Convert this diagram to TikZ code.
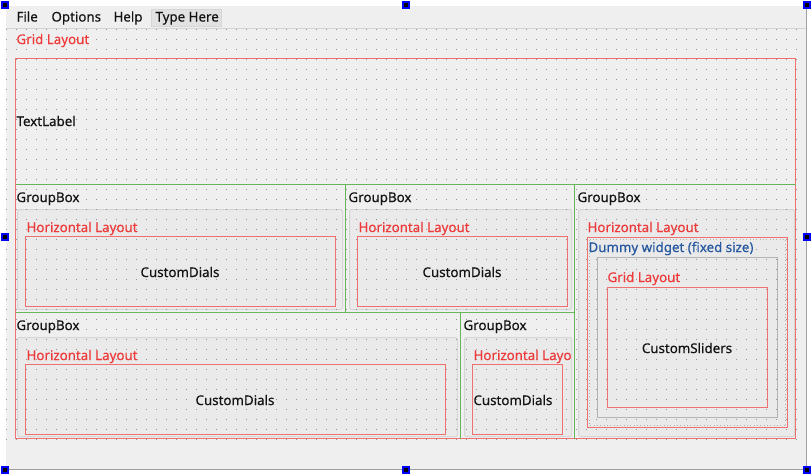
\documentclass[tikz,border=0pt]{standalone}
\usepackage{fontspec}
\setmainfont{Noto Sans}[BoldFont={Noto Sans}, BoldFeatures={FakeBold=0.35}]

\definecolor{winBg}{RGB}{239,239,239}
\definecolor{winEdge}{RGB}{160,160,160}
\definecolor{menuLine}{RGB}{212,212,212}
\definecolor{typeFill}{RGB}{226,226,226}
\definecolor{dotGray}{RGB}{145,145,145}
\definecolor{layoutRed}{RGB}{240,112,112}
\definecolor{labelRed}{RGB}{238,58,58}
\definecolor{splitGreen}{RGB}{104,182,92}
\definecolor{frameGray}{RGB}{214,214,214}
\definecolor{frameFill}{RGB}{234,234,234}
\definecolor{boxGray}{RGB}{178,178,178}
\definecolor{dummyBlue}{RGB}{38,88,160}
\definecolor{textBlack}{RGB}{20,20,20}

\tikzset{every picture/.style={line width=0.75pt}}
\tikzset{
  layoutbox/.style={draw=layoutRed},
  splitline/.style={draw=splitGreen},
  groupframe/.style={draw=frameGray, fill=frameFill, rounded corners=1.5pt},
  handle/.style={draw=blue, fill=black, line width=1pt},
  wtext/.style={anchor=base west, inner sep=0pt, text=textBlack, font=\fontsize{10}{12}\selectfont\bfseries},
  ctext/.style={wtext, anchor=base},
  redtext/.style={wtext, text=labelRed},
}

\begin{document}
\begin{tikzpicture}[x=0.75pt,y=0.75pt,yscale=-1,xscale=1]
\useasboundingbox (0,0) rectangle (812,475);
\fill [white] (0,0) rectangle (812,475);

%Shape: Window
\fill [winBg] (6,6) rectangle (807,470);
\draw [winEdge] (806.5,6) -- (806.5,469.5) -- (6,469.5);

%Shape: Menu bar
\draw [menuLine] (6,28.5) -- (806,28.5);
\draw [draw=frameGray, fill=typeFill] (151,9) rectangle (221,26.5);

% Text Node
\draw (16,21.5) node (mFile) [wtext] {File};
% Text Node
\draw (51,21.5) node (mOptions) [wtext] {Options};
% Text Node
\draw (113,21.5) node (mHelp) [wtext] {Help};
% Text Node
\draw (155,21.5) node (mType) [wtext] {Type Here};

%Shape: Group frames
\draw [groupframe] (17.5,209.5) rectangle (342.5,309.5);
\draw [groupframe] (349.5,209.5) rectangle (571.5,309.5);
\draw [groupframe] (578.5,209.5) rectangle (794.5,436.5);
\draw [groupframe] (17.5,337.5) rectangle (457.5,436.5);
\draw [groupframe] (464.5,337.5) rectangle (571.5,436.5);

%Shape: Form grid
\foreach \i in {0,...,79}
  \foreach \j in {0,...,41}
    \fill [dotGray] (5.5+10*\i,28.5+10*\j) rectangle ++(1,1);

%Shape: Main grid layout
\draw [layoutbox] (15.5,58.5) rectangle (795.5,438.5);
%Straight Lines: splitters
\draw [splitline] (15.5,184.5) -- (795.5,184.5);
\draw [splitline] (345.5,184.5) -- (345.5,312.5);
\draw [splitline] (15.5,312.5) -- (574.5,312.5);
\draw [splitline] (574.5,184.5) -- (574.5,438.5);
\draw [splitline] (460.5,312.5) -- (460.5,438.5);

%Shape: Horizontal layouts
\draw [layoutbox] (25.5,236.5) rectangle (335.5,306.5);
\draw [layoutbox] (357.5,236.5) rectangle (567.5,306.5);
\draw [layoutbox] (587.5,237.5) rectangle (787.5,427.5);
\draw [layoutbox] (25.5,364.5) rectangle (445.5,434.5);
\draw [layoutbox] (472.5,364.5) rectangle (562.5,434.5);
%Shape: Dummy widget
\draw [boxGray, dotted, line width=0.5pt] (589.5,239.5) rectangle (785.5,425.5);
\draw [boxGray] (597.5,257.5) rectangle (777.5,417.5);
\draw [layoutbox] (607.5,287.5) rectangle (767.5,407.5);

% Text Node
\draw (16,44) node (gridLbl) [redtext] {Grid Layout};
% Text Node
\draw (16,126) node (textLbl) [wtext] {TextLabel};

% Text Node
\draw (16,202) node (gbA) [wtext] {GroupBox};
% Text Node
\draw (348,202) node (gbB) [wtext] {GroupBox};
% Text Node
\draw (577,202) node (gbC) [wtext] {GroupBox};
% Text Node
\draw (16,330) node (gbD) [wtext] {GroupBox};
% Text Node
\draw (463,330) node (gbE) [wtext] {GroupBox};

% Text Node
\draw (26,232) node (hlA) [redtext] {Horizontal Layout};
% Text Node
\draw (358,232) node (hlB) [redtext] {Horizontal Layout};
% Text Node
\draw (587,232) node (hlC) [redtext] {Horizontal Layout};
% Text Node
\draw (26,360) node (hlD) [redtext] {Horizontal Layout};
\begin{scope}
\clip (464,337) rectangle (571,437);
% Text Node
\draw (473,360) node (hlE) [redtext] {Horizontal Layout};
\end{scope}

% Text Node
\draw (180,277) node (dialsA) [ctext] {CustomDials};
% Text Node
\draw (462,277) node (dialsB) [ctext] {CustomDials};
% Text Node
\draw (235,405) node (dialsD) [ctext] {CustomDials};
% Text Node
\draw (473,405) node (dialsE) [wtext] {CustomDials};

% Text Node
\draw (588,252) node (dummyLbl) [wtext, text=dummyBlue] {Dummy widget (fixed size)};
% Text Node
\draw (607,282) node (innerGridLbl) [redtext] {Grid Layout};
% Text Node
\draw (687,353) node (sliders) [ctext] {CustomSliders};

%Shape: Selection handles
\foreach \hx/\hy in {5/5, 406/5, 807/5, 5/237, 807/237, 5/470, 406/470, 807/470}
  \draw [handle] (\hx-3,\hy-3) rectangle ++(6,6);

\end{tikzpicture}
\end{document}
